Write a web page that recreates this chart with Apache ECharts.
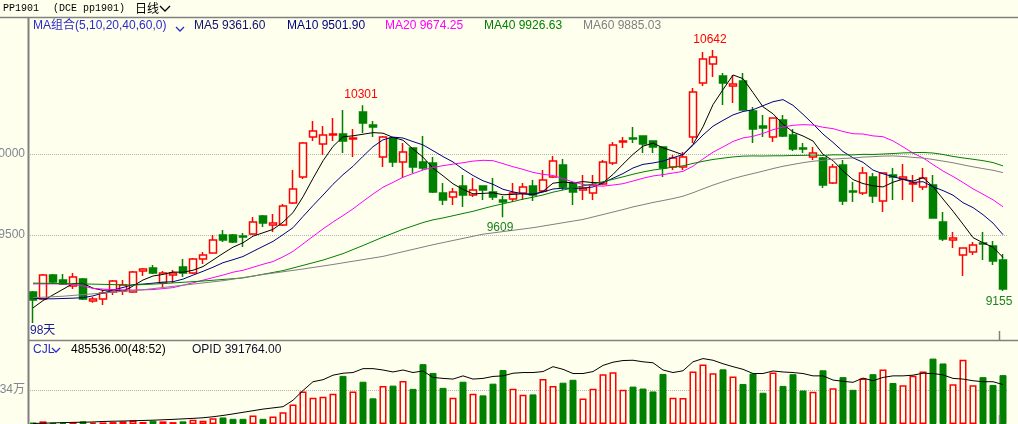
<!DOCTYPE html>
<html><head><meta charset="utf-8">
<script src="https://cdn.jsdelivr.net/npm/echarts@6/dist/echarts.min.js"></script>
<style>html,body{margin:0;padding:0;background:#FFFFEE;} #c{width:1018px;height:424px;}</style>
</head><body><div id="c"></div>
<script>
// ---------- data ----------
const opens = [
 9148, 9105, 9253, 9222, 9185, 9228, 9093, 9105, 9148, 9154,
 9148, 9278, 9296, 9204, 9253, 9302, 9265, 9352, 9389, 9500,
 9500, 9494, 9506, 9617, 9562, 9562, 9697, 9858, 10105, 10062,
 10117, 10123, 10093, 10259, 10179, 9981, 10099, 9951, 10037, 9951,
 9944, 9759, 9735, 9802, 9747, 9802, 9765, 9716, 9722, 9759,
 9802, 9772, 9858, 9932, 9821, 9778, 9759, 9815, 9944, 10074,
 10099, 10111, 10080, 10043, 9920, 9920, 10105, 10438, 10556, 10481,
 10420, 10451, 10265, 10173, 10105, 10210, 10117, 10037, 9981, 9975,
 9821, 9932, 9772, 9759, 9858, 9710, 9871, 9846, 9815, 9796,
 9809, 9580, 9469, 9377, 9395, 9451, 9432, 9346];
const closes = [
 9099, 9253, 9210, 9198, 9241, 9105, 9105, 9142, 9216, 9191,
 9272, 9290, 9265, 9265, 9265, 9265, 9352, 9377, 9469, 9469,
 9457, 9488, 9580, 9574, 9574, 9679, 9784, 10068, 10142, 10117,
 10123, 10080, 10099, 10191, 10167, 10105, 9951, 10012, 9920, 9914,
 9765, 9716, 9765, 9747, 9778, 9778, 9735, 9704, 9759, 9796,
 9747, 9840, 9957, 9796, 9765, 9790, 9809, 9951, 10056, 10080,
 10093, 10062, 10043, 9914, 9975, 9981, 10383, 10586, 10599, 10438,
 10432, 10272, 10154, 10160, 10222, 10111, 10031, 10031, 10006, 9809,
 9920, 9710, 9765, 9883, 9741, 9883, 9858, 9858, 9821, 9852,
 9605, 9475, 9482, 9420, 9438, 9444, 9340, 9167];
const lows = [
 8957, 9100, 9204, 9191, 9167, 9099, 9081, 9068, 9130, 9130,
 9142, 9247, 9259, 9179, 9204, 9241, 9259, 9321, 9389, 9457,
 9451, 9426, 9500, 9549, 9518, 9556, 9691, 9846, 10080, 9994,
 10080, 10006, 9981, 10130, 10105, 9920, 9920, 9852, 9883, 9901,
 9759, 9685, 9685, 9673, 9735, 9716, 9716, 9609, 9704, 9716,
 9710, 9765, 9852, 9778, 9685, 9716, 9716, 9809, 9932, 10037,
 10068, 10006, 10006, 9858, 9901, 9901, 10068, 10420, 10475, 10302,
 10315, 10272, 10068, 10105, 10074, 10105, 10019, 10006, 9963, 9790,
 9815, 9685, 9704, 9747, 9697, 9642, 9716, 9716, 9704, 9778,
 9605, 9463, 9420, 9247, 9377, 9346, 9315, 9155];
const highs = [
 9154, 9259, 9259, 9259, 9265, 9235, 9117, 9161, 9222, 9222,
 9278, 9296, 9315, 9278, 9284, 9352, 9358, 9395, 9500, 9531,
 9506, 9512, 9611, 9623, 9630, 9691, 9901, 10074, 10204, 10173,
 10222, 10272, 10154, 10301, 10204, 10111, 10105, 10068, 10037, 10111,
 9981, 9821, 9790, 9871, 9852, 9802, 9852, 9741, 9821, 9821,
 9840, 9901, 9988, 9969, 9827, 9871, 9871, 9963, 10074, 10105,
 10167, 10111, 10080, 10043, 9994, 10012, 10407, 10630, 10642, 10500,
 10488, 10500, 10290, 10241, 10222, 10241, 10154, 10068, 10043, 9981,
 9938, 9963, 9827, 9920, 9883, 9883, 9914, 9938, 9871, 9914,
 9871, 9642, 9518, 9420, 9457, 9518, 9463, 9383];
const ma5 = [
 9050, 9095, 9130, 9165, 9200.2, 9201.4, 9171.8, 9158.2, 9161.8, 9151.8,
 9185.2, 9222.2, 9246.8, 9256.6, 9271.4, 9270, 9282.4, 9304.8, 9345.6, 9386.4,
 9424.8, 9452, 9492.6, 9513.6, 9534.6, 9579, 9638.2, 9735.8, 9849.4, 9958,
 10046.8, 10106, 10112.2, 10122, 10132, 10128.4, 10102.6, 10085.2, 10031, 9980.4,
 9912.4, 9865.4, 9816, 9781.4, 9754.2, 9756.8, 9760.6, 9748.4, 9750.8, 9754.4,
 9748.2, 9769.2, 9819.8, 9827.2, 9821, 9829.6, 9823.4, 9822.2, 9874.2, 9937.2,
 9997.8, 10048.4, 10066.8, 10038.4, 10017.4, 9995, 10059.2, 10167.8, 10304.8, 10397.4,
 10487.6, 10465.4, 10379, 10291.2, 10248, 10183.8, 10135.6, 10111, 10080.2, 9997.6,
 9959.4, 9895.2, 9842, 9817.4, 9803.8, 9796.4, 9826, 9844.6, 9832.2, 9854.4,
 9798.8, 9722.2, 9647, 9566.8, 9484, 9451.8, 9424.8, 9361.6];
const ma10 = [
 9110, 9106, 9106, 9108, 9110, 9113, 9124, 9142, 9160, 9176,
 9193.3, 9197, 9202.5, 9209.2, 9211.6, 9227.6, 9252.3, 9275.8, 9301.1, 9328.9,
 9347.4, 9367.2, 9398.7, 9429.6, 9460.5, 9501.9, 9545.1, 9614.2, 9681.5, 9746.3,
 9812.9, 9872.1, 9924, 9985.7, 10045, 10087.6, 10104.3, 10098.7, 10076.5, 10056.2,
 10020.4, 9984, 9950.6, 9906.2, 9867.3, 9834.6, 9813, 9782.2, 9766.1, 9754.3,
 9752.5, 9764.9, 9784.1, 9789, 9787.7, 9788.9, 9796.3, 9821, 9850.7, 9879.1,
 9913.7, 9935.9, 9944.5, 9956.3, 9977.3, 9996.4, 10053.8, 10117.3, 10171.6, 10207.4,
 10241.3, 10262.3, 10273.4, 10298, 10322.7, 10335.7, 10300.5, 10245, 10185.7, 10122.8,
 10071.6, 10015.4, 9976.5, 9948.8, 9900.7, 9877.9, 9860.6, 9843.3, 9824.8, 9829.1,
 9797.6, 9774.1, 9745.8, 9699.5, 9669.2, 9625.3, 9573.5, 9501.9];
const ma20 = [
 9198, null, null, 9198, 9195, 9185, 9170, null, 9162, null,
 9160, null, 9163, null, 9175, null, 9205, null, 9237, 9252.5,
 9270.4, 9282.1, 9300.6, 9319.4, 9336.1, 9364.8, 9398.7, 9445, 9491.3, 9537.6,
 9580.2, 9619.7, 9661.4, 9707.7, 9752.8, 9794.8, 9824.7, 9856.5, 9879, 9901.3,
 9916.7, 9928, 9937.3, 9946, 9956.2, 9961.1, 9958.7, 9940.5, 9921.3, 9905.3,
 9886.5, 9874.5, 9867.4, 9847.6, 9827.5, 9811.8, 9804.7, 9801.6, 9808.4, 9816.7,
 9833.1, 9850.4, 9864.3, 9872.7, 9882.5, 9892.7, 9925.1, 9969.2, 10011.2, 10043.3,
 10077.5, 10099.1, 10109, 10127.2, 10150, 10166.1, 10177.2, 10181.2, 10178.7, 10165.1,
 10156.5, 10138.9, 10125, 10123.4, 10111.7, 10106.8, 10080.6, 10044.2, 10005.3, 9976,
 9934.6, 9894.8, 9861.2, 9824.2, 9785, 9751.6, 9717.1, 9674.25];
const ma40 = [
 9203, null, null, null, null, 9198, null, null, null, null,
 9191, null, null, 9200, null, null, null, 9216, null, null,
 null, 9235, null, null, null, 9280, null, null, null, 9345,
 null, 9385, null, 9435, null, 9487, null, 9535, null, 9576.9,
 9593.5, 9605.1, 9618.9, 9632.7, 9646.1, 9662.9, 9678.7, 9692.7, 9706.3, 9721.4,
 9733.3, 9747, 9764.4, 9777.6, 9790.1, 9803.3, 9814.7, 9829, 9843.7, 9859,
 9874.9, 9889.2, 9900.8, 9909.3, 9919.3, 9926.9, 9941.9, 9954.8, 9966.2, 9974.3,
 9982, 9986.8, 9988.2, 9987.4, 9988.8, 9988.9, 9990.9, 9991.4, 9993.5, 9990.9,
 9994.8, 9994.6, 9994.6, 9998, 9997.1, 9999.7, 10002.8, 10006.7, 10008.2, 10009.6,
 10006, 9996.9, 9985, 9975.7, 9967.5, 9958.8, 9947.1, 9926.63];
const ma60 = [
 9113, null, null, 9122, null, null, null, 9142, null, null,
 null, 9162, null, null, null, 9190, null, null, null, 9218,
 null, null, null, 9256, null, null, null, 9290, null, null,
 9318, null, null, null, null, 9368, null, null, null, null,
 9440, null, null, null, null, 9505, null, null, null, null,
 9545, null, null, null, null, 9596, null, null, null, 9656.8,
 9673.4, 9686.9, 9700.7, 9712.7, 9724.9, 9739.5, 9760.8, 9784.9, 9807.9, 9828.7,
 9848, 9864.4, 9879.2, 9894.1, 9910.1, 9924.2, 9935.5, 9946.4, 9955.4, 9961,
 9968.7, 9972.4, 9975.5, 9980.7, 9983.5, 9986.9, 9988.1, 9984.6, 9979.2, 9974.8,
 9966.2, 9956.1, 9945.8, 9933, 9920.8, 9909.8, 9899.6, 9885.03];
const volumes = [
 15000, 26200, 12000, 10000, 18000, 26200, 14000, 16000, 19000, 26200,
 35900, 20000, 32000, 26200, 19000, 26200, 41700, 32000, 58200, 65000,
 51400, 51400, 84400, 51400, 74700, 116400, 194000, 323100, 262000, 271700,
 300800, 478300, 323100, 420100, 255200, 378400, 381300, 426900, 349300, 594700,
 507400, 359000, 262000, 420100, 300800, 284300, 400700, 536500, 349300, 291100,
 294000, 446300, 378400, 410400, 439500, 252300, 349300, 494800, 514200, 339600,
 371600, 352200, 323100, 497700, 262000, 259000, 520900, 591800, 504500, 543300,
 472500, 397800, 501600, 310500, 511300, 378400, 494800, 332800, 320200, 533600,
 356100, 465700, 339600, 453100, 494800, 540400, 407500, 385200, 478300, 520900,
 650000, 601500, 394900, 637400, 385200, 465700, 388100, 485536];
const opid = [
 5000, 8000, 11000, 14000, 16000, 18000, 20000, 25000, 27500, 29500,
 32000, 35000, 38000, 42000, 46000, 51000, 56000, 62000, 72000, 85000,
 100000, 116000, 132000, 148000, 160000, 172000, 236000, 333000, 420000, 440000,
 485000, 504500, 511300, 550100, 550100, 536500, 517100, 536500, 511300, 526800,
 462800, 453100, 446300, 478300, 446300, 453100, 472500, 478300, 504500, 511300,
 511300, 521000, 569500, 543300, 501600, 501600, 521000, 582100, 614100, 630600,
 633500, 618000, 608300, 536500, 511300, 528800, 618000, 650000, 633500, 598600,
 569500, 543300, 501600, 501600, 526800, 517100, 511300, 501600, 478300, 478300,
 436600, 424000, 414300, 456000, 429800, 462800, 478300, 478300, 485100, 504500,
 501600, 488000, 453100, 446300, 429800, 420100, 420100, 391764];
const priceTicks = [10000, 9500];
const volTicks = [340000];
const volTickLabels = ['34万'];
const highMarks = [33, 68];   // candles whose high is labelled
const lowMarks = [47, 97];    // candles whose low is labelled
const buySellRatio = '48:52';
const categories = opens.map((_, i) => 'D' + (i + 1));

// ---------- styles ----------
const BG = '#FFFFEE';
const UP = '#FF0000', DOWN = '#008000';
const FONT = '"Liberation Sans","Noto Sans CJK SC",sans-serif';
const AXISGRAY = '#808080';

const chart = echarts.init(document.getElementById('c'), null, {renderer: 'canvas'});

function txt(text, x, y, color, size, family) {
  return {type: 'text', silent: true, z: 100,
    style: {text: text, x: x, y: y, fill: color, font: size + 'px ' + (family || FONT),
      align: 'left', verticalAlign: 'middle', textAlign: 'left', textVerticalAlign: 'middle'}};
}
function seg(points, color, w) {
  return {type: 'polyline', silent: true, z: 100,
    shape: {points: points}, style: {stroke: color, lineWidth: w, fill: null}};
}

const markLabels = [];
highMarks.forEach((i, k) => markLabels.push({coord: [categories[i], highs[i]], value: highs[i],
  label: {position: 'top', distance: 4, color: UP, offset: [k === 1 ? -3 : -2, 0]}}));
lowMarks.forEach((i, k) => markLabels.push({coord: [categories[i], lows[i]], value: lows[i],
  label: {position: 'bottom', distance: 4, color: '#1F7F1F', offset: [k === 1 ? -4 : -3, 0]}}));

const maLine = (name, data, color) => ({
  name: name, type: 'line', xAxisIndex: 0, yAxisIndex: 0, data: data, symbol: 'none',
  connectNulls: true, silent: true, z: 4, lineStyle: {color: color, width: 1}
});

const option = {
  backgroundColor: BG,
  animation: false,
  grid: [
    {left: 28, top: 18, width: 980, height: 322},
    {left: 28, top: 341, width: 980, height: 85}
  ],
  xAxis: [
    {type: 'category', gridIndex: 0, data: categories, boundaryGap: true,
     axisLine: {show: false}, axisTick: {show: false}, axisLabel: {show: false}, splitLine: {show: false}},
    {type: 'category', gridIndex: 1, data: categories, boundaryGap: true,
     axisLine: {show: false}, axisTick: {show: false}, axisLabel: {show: false}, splitLine: {show: false}}
  ],
  yAxis: [
    {type: 'value', gridIndex: 0, min: 8851.8, max: 10839.5,
     axisLine: {show: false}, axisTick: {show: false}, axisLabel: {show: false}, splitLine: {show: false}},
    {type: 'value', gridIndex: 1, min: 0, max: 824670,
     axisLine: {show: false}, axisTick: {show: false}, axisLabel: {show: false}, splitLine: {show: false}}
  ],
  series: [
    {type: 'candlestick', xAxisIndex: 0, yAxisIndex: 0, z: 3, silent: true,
     data: opens.map((o, i) => [o, closes[i], lows[i], highs[i]]),
     barWidth: 7,
     itemStyle: {color: BG, color0: DOWN, borderColor: UP, borderColor0: DOWN, borderWidth: 1.5},
     markLine: {symbol: ['none', 'none'], silent: true, animation: false, z: 1,
       lineStyle: {color: '#B4B4B4', type: 'dotted', width: 1},
       label: {show: true, position: 'start', distance: 3, color: '#7E8791', fontSize: 12, fontFamily: FONT,
         formatter: p => String(p.value)},
       emphasis: {disabled: true},
       data: priceTicks.map(v => ({yAxis: v}))},
     markPoint: {symbol: 'circle', symbolSize: 1, silent: true, animation: false,
       itemStyle: {color: 'rgba(0,0,0,0)'},
       label: {show: true, fontSize: 12, fontFamily: FONT, formatter: p => String(p.value)},
       data: markLabels}
    },
    maLine('MA5', ma5, '#000000'),
    maLine('MA10', ma10, '#000080'),
    maLine('MA20', ma20, '#FF00FF'),
    maLine('MA40', ma40, '#008000'),
    maLine('MA60', ma60, '#808080'),
    {type: 'bar', xAxisIndex: 1, yAxisIndex: 1, barWidth: 7, silent: true, z: 2,
     data: volumes.map((v, i) => ({value: v, itemStyle: closes[i] > opens[i]
       ? {color: BG, borderColor: UP, borderWidth: 1.5}
       : {color: DOWN, borderColor: DOWN, borderWidth: 1}})),
     markLine: {symbol: ['none', 'none'], silent: true, animation: false, z: 1,
       lineStyle: {color: '#B4B4B4', type: 'dotted', width: 1},
       label: {show: true, position: 'start', distance: 3, color: '#7E8791', fontSize: 12, fontFamily: FONT,
         formatter: p => volTickLabels[volTicks.indexOf(p.value)]},
       emphasis: {disabled: true},
       data: volTicks.map(v => ({yAxis: v}))}
    },
    {type: 'line', xAxisIndex: 1, yAxisIndex: 1, data: opid, symbol: 'none', silent: true, z: 5,
     lineStyle: {color: '#000000', width: 1}}
  ],
  graphic: [
    // frame lines
    seg([[0, 17.5], [1018, 17.5]], AXISGRAY, 1.5),
    seg([[28, 340.5], [1018, 340.5]], AXISGRAY, 1.5),
    seg([[28.5, 17], [28.5, 424]], AXISGRAY, 2),
    seg([[999.5, 331], [999.5, 340]], AXISGRAY, 1.5),
    seg([[999.5, 415], [999.5, 424]], AXISGRAY, 1.5),
    // title row
    txt('PP1901', 3, 8.5, '#000000', 10, '"Liberation Mono",monospace'),
    txt('(DCE pp1901)', 53, 8.5, '#000000', 10, '"Liberation Mono",monospace'),
    txt('日线', 135, 8.5, '#000000', 12, '"Noto Sans CJK SC",sans-serif'),
    seg([[160, 6], [165, 11], [170, 6]], '#000000', 1.3),
    // MA legend row
    txt('MA组合(5,10,20,40,60,0)', 33, 26, '#2B2BC8', 12),
    seg([[176, 27], [180, 31], [184, 27]], '#2B2BC8', 1.3),
    txt('MA5 ' + ma5[ma5.length - 1].toFixed(2), 194, 26, '#101070', 12),
    txt('MA10 ' + ma10[ma10.length - 1].toFixed(2), 287, 26, '#000080', 12),
    txt('MA20 ' + ma20[ma20.length - 1].toFixed(2), 385, 26, '#FF00FF', 12),
    txt('MA40 ' + ma40[ma40.length - 1].toFixed(2), 484, 26, '#008000', 12),
    txt('MA60 ' + ma60[ma60.length - 1].toFixed(2), 583, 26, '#808080', 12),
    txt(opens.length + '天', 30, 331, '#1A1A9A', 12),
    // volume legend row
    txt('CJL', 33, 350, '#2B2BC8', 12),
    seg([[52, 348], [56, 352], [60, 348]], '#2B2BC8', 1.3),
    txt(volumes[volumes.length - 1].toFixed(2) + '(' + buySellRatio + ')', 71, 350, '#000000', 12),
    txt('OPID ' + opid[opid.length - 1].toFixed(2), 192, 350, '#101030', 12)
  ]
};
chart.setOption(option);
</script></body></html>
